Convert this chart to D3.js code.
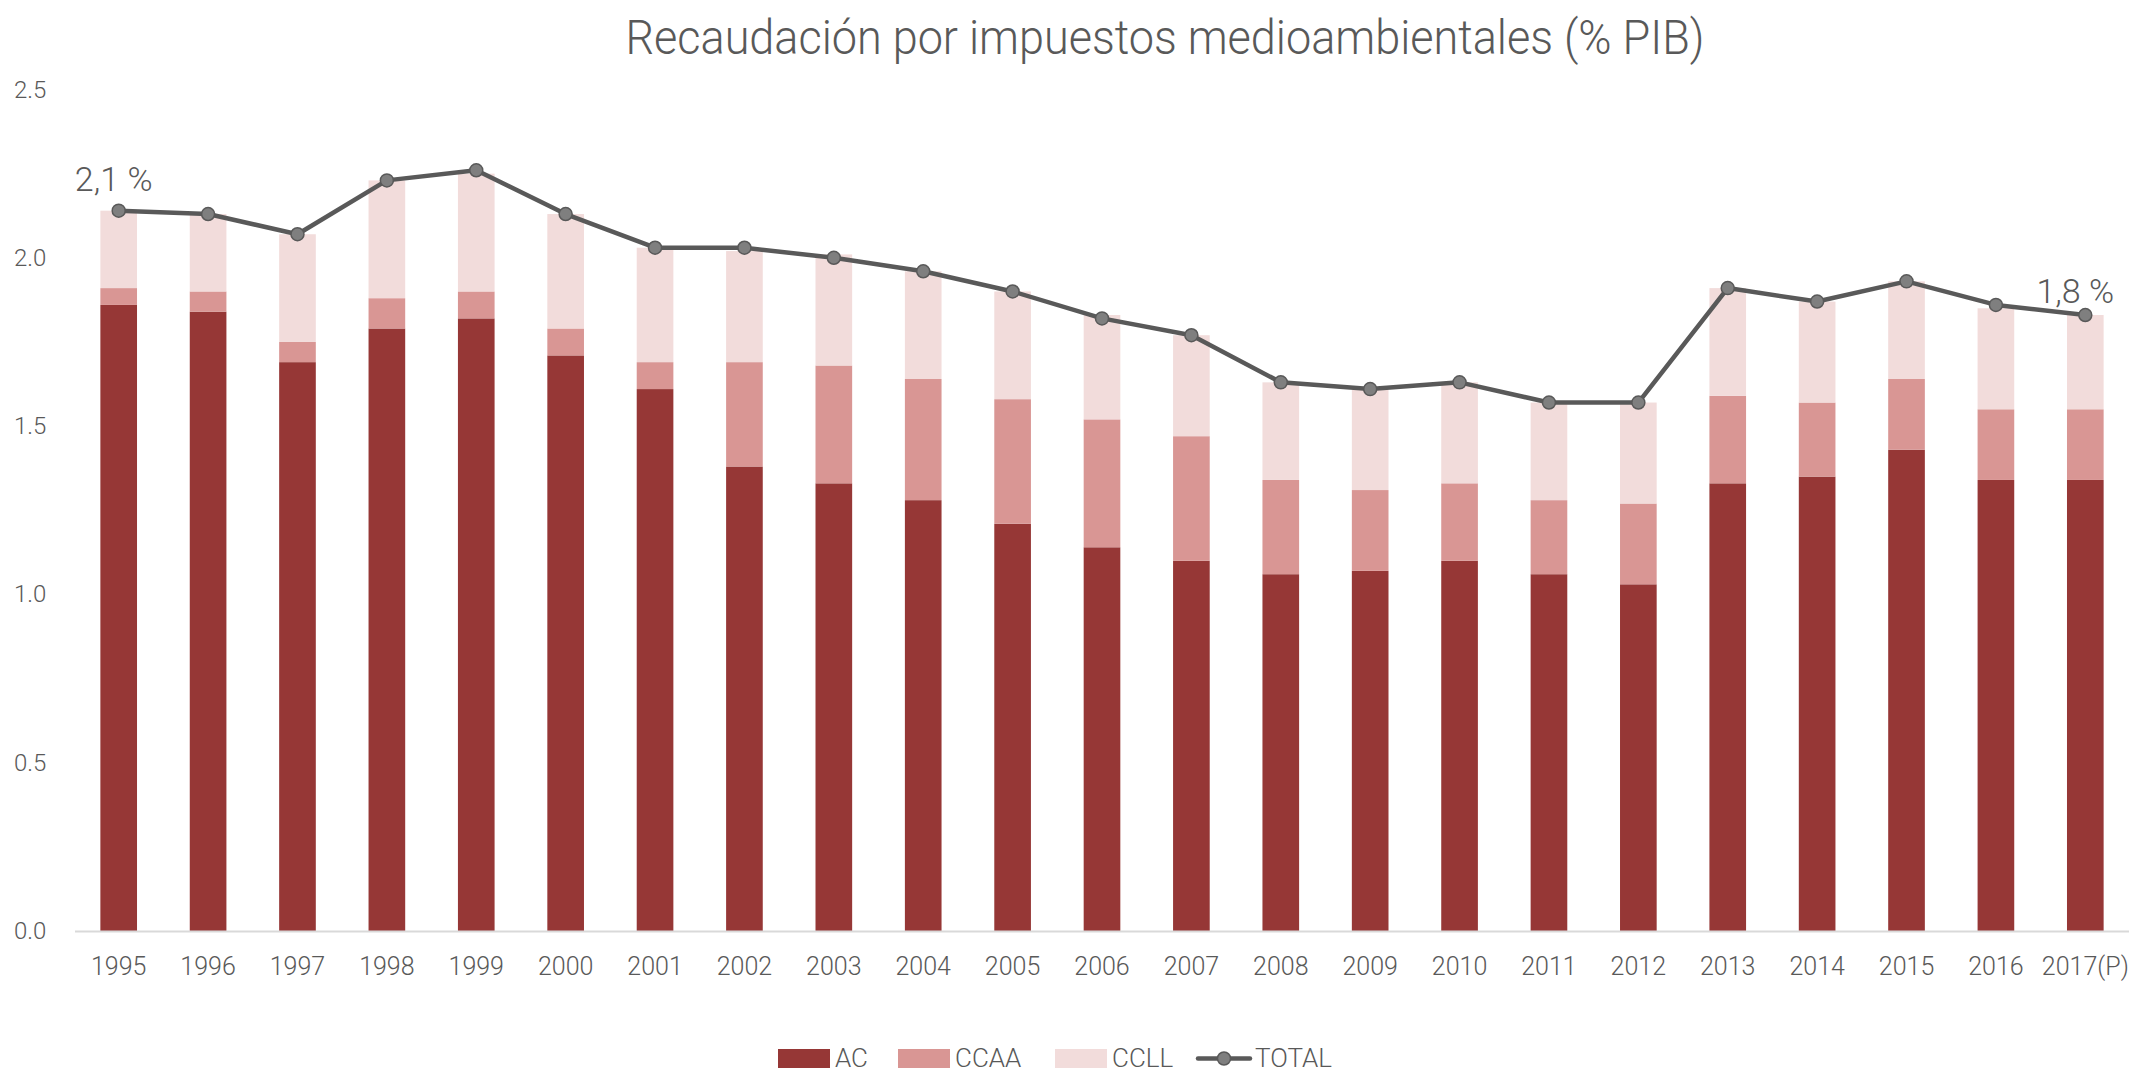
<!DOCTYPE html>
<html><head><meta charset="utf-8">
<script src="https://cdn.jsdelivr.net/npm/d3@7"></script>
<style>
body{margin:0;background:#fff;}
text{font-family:"Roboto","Lato",sans-serif;font-weight:300;fill:#595959;}
</style></head>
<body><svg id="c" width="2129" height="1075"></svg>
<script>
const years = ["1995","1996","1997","1998","1999","2000","2001","2002","2003","2004","2005","2006","2007","2008","2009","2010","2011","2012","2013","2014","2015","2016","2017(P)"];
const ac    = [1.86,1.84,1.69,1.79,1.82,1.71,1.61,1.38,1.33,1.28,1.21,1.14,1.10,1.06,1.07,1.10,1.06,1.03,1.33,1.35,1.43,1.34,1.34];
const ccaa  = [0.05,0.06,0.06,0.09,0.08,0.08,0.08,0.31,0.35,0.36,0.37,0.38,0.37,0.28,0.24,0.23,0.22,0.24,0.26,0.22,0.21,0.21,0.21];
const ccll  = [0.23,0.23,0.32,0.35,0.35,0.34,0.34,0.33,0.33,0.32,0.32,0.31,0.30,0.29,0.30,0.30,0.29,0.30,0.32,0.30,0.29,0.30,0.28];
const total = [2.14,2.13,2.07,2.23,2.26,2.13,2.03,2.03,2.00,1.96,1.90,1.82,1.77,1.63,1.61,1.63,1.57,1.57,1.91,1.87,1.93,1.86,1.83];
const yTicks = [0,0.5,1.0,1.5,2.0,2.5];
const seriesNames = ["AC","CCAA","CCLL"];
const colors = ["#963736","#D99694","#F2DCDB"];
const annotations = [{i:0,text:"2,1 %"},{i:22,text:"1,8 %"}];

const svg = d3.select("#c");
const x = d3.scaleBand().domain(years).range([74,2130]).paddingInner(0.59).paddingOuter(0.295);
const y = d3.scaleLinear().domain([0,2.5]).range([931,89.5]);

svg.append("text").attr("x",1165).attr("y",54).attr("text-anchor","middle")
  .attr("font-size",48).attr("textLength",1079).attr("lengthAdjust","spacingAndGlyphs")
  .text("Recaudación por impuestos medioambientales (% PIB)");

// y labels
svg.append("g").selectAll("text").data(yTicks).join("text")
  .attr("x",14).attr("y",d=>y(d)+8).attr("font-size",24)
  .text(d=>d.toFixed(1));

// stacked bars
const rows = years.map((yr,i)=>({year:yr,AC:ac[i],CCAA:ccaa[i],CCLL:ccll[i]}));
const stack = d3.stack().keys(seriesNames)(rows);
svg.append("g").selectAll("g").data(stack).join("g").attr("fill",(d,i)=>colors[i])
  .selectAll("rect").data(d=>d).join("rect")
  .attr("x",d=>x(d.data.year)).attr("width",x.bandwidth())
  .attr("y",d=>y(d[1])).attr("height",d=>y(d[0])-y(d[1]));

// x axis line
svg.append("line").attr("x1",75).attr("x2",2129).attr("y1",y(0)+0.5).attr("y2",y(0)+0.5)
  .attr("stroke","#d9d9d9").attr("stroke-width",2);
svg.append("g").selectAll("text").data(years).join("text")
  .attr("x",d=>x(d)+x.bandwidth()/2).attr("y",975).attr("text-anchor","middle")
  .attr("font-size",25).text(d=>d);

// total line
const cx = i=>x(years[i])+x.bandwidth()/2;
svg.append("path").datum(total).attr("fill","none").attr("stroke","#595959").attr("stroke-width",4.5)
  .attr("stroke-linejoin","round")
  .attr("d",d3.line().x((d,i)=>cx(i)).y(d=>y(d)));
svg.append("g").selectAll("circle").data(total).join("circle")
  .attr("cx",(d,i)=>cx(i)).attr("cy",d=>y(d)).attr("r",6.5)
  .attr("fill","#7f7f7f").attr("stroke","#595959").attr("stroke-width",1.5);

// annotations
svg.append("g").selectAll("text").data(annotations).join("text")
  .attr("x",d=>cx(d.i)+(d.i===0?-5:-10)).attr("y",d=>y(total[d.i])-(d.i===0?20:12))
  .attr("text-anchor","middle").attr("font-size",34).text(d=>d.text);

// legend
const lg = svg.append("g");
const legendItems = [
  {name:"AC",type:"rect",color:colors[0],x:778},
  {name:"CCAA",type:"rect",color:colors[1],x:898},
  {name:"CCLL",type:"rect",color:colors[2],x:1055},
  {name:"TOTAL",type:"line",color:"#595959",x:1198}
];
legendItems.forEach(it=>{
  if(it.type==="rect"){
    lg.append("rect").attr("x",it.x).attr("y",1049).attr("width",52).attr("height",19).attr("fill",it.color);
  } else {
    lg.append("line").attr("x1",it.x).attr("x2",it.x+52).attr("y1",1058.5).attr("y2",1058.5)
      .attr("stroke",it.color).attr("stroke-width",4.5).attr("stroke-linecap","round");
    lg.append("circle").attr("cx",it.x+26).attr("cy",1058.5).attr("r",6.5).attr("fill","#7f7f7f").attr("stroke","#595959").attr("stroke-width",1.5);
  }
  lg.append("text").attr("x",it.x+57).attr("y",1067).attr("font-size",26).text(it.name);
});
</script></body></html>
